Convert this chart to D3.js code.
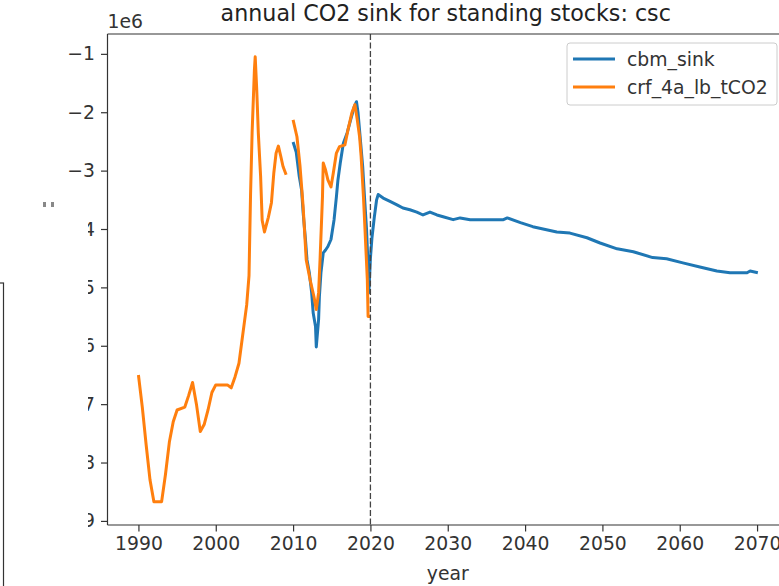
<!DOCTYPE html>
<html><head><meta charset="utf-8">
<script src="https://cdn.jsdelivr.net/npm/d3@7"></script>
<style>body{margin:0;background:#fff}svg{display:block;font-family:"DejaVu Sans",sans-serif}</style>
</head><body><svg id="c" width="779" height="586"></svg>
<script>
// Data (values in tCO2)
const crfYears = [1990,1990.5,1991,1991.5,1992,1993,1993.5,1994,1994.5,1995,1996,1996.5,1997,1997.5,1998,1998.5,1999,1999.5,2000,2001.5,2002,2002.5,2003,2003.3,2003.7,2004,2004.3,2004.5,2004.7,2005,2005.1,2005.3,2005.5,2005.8,2006,2006.3,2006.8,2007.2,2007.5,2007.8,2008.1,2008.4,2008.7,2009.1,
  null,
  2010.0,2010.5,2010.9,2011.3,2011.7,2012.2,2012.7,2013.0,2013.3,2013.5,2013.8,2013.9,2014.2,2014.5,2014.9,2015.2,2015.6,2016.0,2016.7,2017.1,2017.6,2018.0,2018.3,2018.6,2018.8,2019.1,2019.3,2019.6,2019.7,2020.0];
const crfValues = [-6.5,-7.05,-7.7,-8.3,-8.67,-8.67,-8.2,-7.65,-7.3,-7.1,-7.05,-6.85,-6.63,-7.0,-7.47,-7.35,-7.1,-6.8,-6.67,-6.67,-6.72,-6.53,-6.3,-6.0,-5.6,-5.3,-4.8,-3.4,-2.35,-1.27,-1.05,-1.62,-2.35,-3.1,-3.85,-4.05,-3.8,-3.55,-3.05,-2.7,-2.58,-2.75,-2.93,-3.07,
  null,
  -2.13,-2.42,-2.93,-3.62,-4.53,-4.87,-5.16,-5.38,-5.09,-4.48,-3.45,-2.87,-2.99,-3.16,-3.28,-3.04,-2.7,-2.59,-2.56,-2.3,-2.01,-1.87,-2.13,-2.42,-2.76,-3.45,-4.01,-4.87,-5.5,-5.5].map(v => v === null ? null : v * 1e6);

const cbmYears = [2010.0,2010.4,2010.8,2011.1,2011.3,2011.6,2011.8,2012.1,2012.4,2012.6,2012.9,2013.0,2013.3,2013.4,2013.6,2013.9,2014.2,2014.5,2014.9,2015.3,2015.6,2015.8,2016.1,2016.5,2017.0,2017.5,2017.9,2018.2,2018.4,2018.7,2019.0,2019.2,2019.5,2019.7,2019.8,2020.0,2020.2,2020.5,2020.8,2021.0,
  2021.65,2022.6,2023.5,2024.2,2025.1,2026.0,2026.8,2027.7,2028.6,2029.4,2030.7,2031.6,2032.9,2037.2,2037.7,2039.4,2041.0,2044.1,2045.8,2048.0,2049.7,2051.9,2054.0,2056.5,2058.3,2060.4,2062.6,2064.8,2066.5,2068.7,2069.1,2070.1];
const cbmValues = [-2.51,-2.68,-3.1,-3.33,-3.72,-4.18,-4.53,-4.75,-5.09,-5.44,-5.67,-6.02,-5.55,-5.16,-4.75,-4.41,-4.36,-4.30,-4.18,-3.84,-3.45,-3.16,-2.87,-2.53,-2.35,-2.10,-1.91,-1.82,-2.01,-2.47,-2.93,-3.38,-4.01,-4.65,-5.09,-4.5,-4.15,-3.8,-3.5,-3.41,
  -3.47,-3.53,-3.59,-3.64,-3.67,-3.71,-3.76,-3.71,-3.76,-3.79,-3.84,-3.81,-3.84,-3.84,-3.81,-3.89,-3.96,-4.05,-4.07,-4.15,-4.24,-4.34,-4.39,-4.49,-4.51,-4.58,-4.65,-4.72,-4.75,-4.75,-4.72,-4.75].map(v => v * 1e6);

const xTicks = [1990,2000,2010,2020,2030,2040,2050,2060,2070];
const yTicks = [-1,-2,-3,-4,-5,-6,-7,-8,-9].map(v => v * 1e6);
const seriesNames = ["cbm_sink","crf_4a_lb_tCO2"];
const seriesColors = ["#1f77b4","#ff7f0e"];
const cutYear = 2020;
const titleText = "annual CO2 sink for standing stocks: csc";

const svg = d3.select("#c");
const L = 107.5, R = 788, T = 34, B = 525;
const x = d3.scaleLinear().domain([1986, 2074]).range([L, R]);
const y = d3.scaleLinear().domain([-9.07e6, -0.66e6]).range([B, T]);
const ink = "#333";
const fs = "18.8px";

// lines
const line = d3.line().defined(d => d[1] !== null).x(d => x(d[0])).y(d => y(d[1]));
const gPlot = svg.append("g");
gPlot.append("path").datum(cbmYears.map((yr,i)=>[yr,cbmValues[i]]))
  .attr("d", line).attr("fill","none").attr("stroke",seriesColors[0]).attr("stroke-width",3).attr("stroke-linejoin","round");
gPlot.append("path").datum(crfYears.map((yr,i)=>[yr,crfValues[i]]))
  .attr("d", line).attr("fill","none").attr("stroke",seriesColors[1]).attr("stroke-width",3).attr("stroke-linejoin","round");

// dashed line
svg.append("line").attr("x1",x(cutYear)).attr("x2",x(cutYear)).attr("y1",T).attr("y2",B)
  .attr("stroke","#444").attr("stroke-width",1.3).attr("stroke-dasharray","6,2.5");

// axes
const xAxis = svg.append("g").attr("transform",`translate(0,${B})`)
  .call(d3.axisBottom(x).tickValues(xTicks).tickFormat(d3.format("d")).tickSize(6.5).tickPadding(5));
const yAxis = svg.append("g").attr("transform",`translate(${L},0)`)
  .call(d3.axisLeft(y).tickValues(yTicks).tickFormat(d => "\u2212" + Math.abs(d/1e6)).tickSize(6.5).tickPadding(6));
[xAxis,yAxis].forEach(g => {
  g.select(".domain").remove();
  g.selectAll(".tick line").attr("stroke",ink).attr("stroke-width",1.2);
  g.selectAll(".tick text").attr("fill",ink).style("font-size",fs).style("font-family","DejaVu Sans");
});
// spines
svg.append("line").attr("x1",L).attr("x2",L).attr("y1",T).attr("y2",B).attr("stroke",ink).attr("stroke-width",1.2);
svg.append("line").attr("x1",L).attr("x2",R).attr("y1",B).attr("y2",B).attr("stroke",ink).attr("stroke-width",1.2);
svg.append("line").attr("x1",L).attr("x2",R).attr("y1",T).attr("y2",T).attr("stroke",ink).attr("stroke-width",1.2);

// texts
svg.append("text").attr("x",(L+R)/2 - 2).attr("y",21).attr("text-anchor","middle")
  .style("font-size","22.2px").attr("fill","#222").text(titleText);
svg.append("text").attr("x",L).attr("y",28).style("font-size",fs).attr("fill",ink).text("1e6");
svg.append("text").attr("x",(L+R)/2).attr("y",580).attr("text-anchor","middle")
  .style("font-size",fs).attr("fill",ink).text("year");

// legend
const lg = svg.append("g");
lg.append("rect").attr("x",567).attr("y",43).attr("width",210).attr("height",62).attr("rx",3)
  .attr("fill","#fff").attr("fill-opacity",0.8).attr("stroke","#ccc").attr("stroke-width",1);
seriesNames.forEach((n,i) => {
  const yy = 59 + i*28;
  lg.append("line").attr("x1",573).attr("x2",615).attr("y1",yy).attr("y2",yy)
    .attr("stroke",seriesColors[i]).attr("stroke-width",3);
  lg.append("text").attr("x",627).attr("y",yy).attr("dy","0.35em").style("font-size",fs)
    .attr("fill",ink).text(n);
});

// overlapping panel artifact on the left
svg.append("rect").attr("x",0).attr("y",207).attr("width",88).attr("height",379).attr("fill","#fff");
svg.append("rect").attr("x",-10).attr("y",283).attr("width",13.5).attr("height",320)
  .attr("fill","none").attr("stroke",ink).attr("stroke-width",1.2);
svg.append("rect").attr("x",43).attr("y",202).attr("width",3).attr("height",5).attr("fill","#888");
svg.append("rect").attr("x",51).attr("y",202).attr("width",3).attr("height",5).attr("fill","#888");
</script></body></html>
